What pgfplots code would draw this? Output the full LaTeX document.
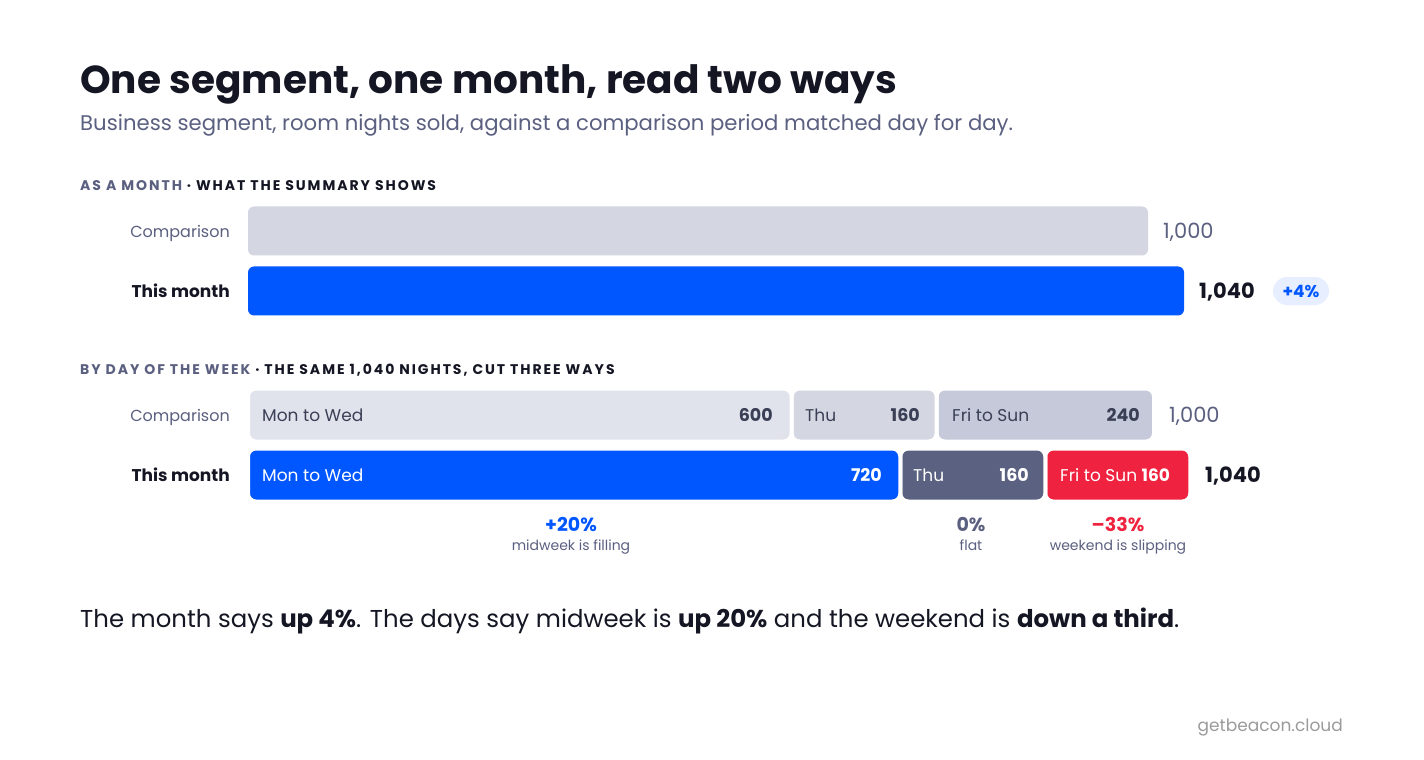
\documentclass[border=0pt]{standalone}
\usepackage{fontspec}
\setmainfont{Poppins}
\newfontfamily\spaced{Poppins}[LetterSpace=14]
\usepackage{pgfplots}
\pgfplotsset{compat=1.18}
\definecolor{ink}{HTML}{151623}
\definecolor{slate}{HTML}{5B6080}
\definecolor{barblue}{HTML}{0057FF}
\definecolor{cmptop}{HTML}{D4D6E2}
\definecolor{cmpa}{HTML}{E1E3EC}
\definecolor{cmpb}{HTML}{D4D6E2}
\definecolor{cmpc}{HTML}{C5C9DA}
\definecolor{thu}{HTML}{5B6180}
\definecolor{barred}{HTML}{EF2340}
\definecolor{pill}{HTML}{E6EEFF}
\definecolor{foot}{HTML}{9B9B9B}
\definecolor{lbl}{HTML}{3A3F55}
\newcommand{\fs}[1]{\fontsize{#1}{#1}\selectfont}
\begin{document}
\begin{tikzpicture}[x=1pt,y=1pt]
\fill[white] (0,0) rectangle (1424,-760);
% ---- top: as a month
\begin{axis}[at={(248pt,-760pt)}, anchor=south west, scale only axis,
  width=900pt, height=760pt, xmin=0, xmax=1000, ymin=-760, ymax=0,
  hide axis, clip=false, enlargelimits=false, xbar, bar width=49pt]
\addplot[fill=cmptop, draw=none, rounded corners=6pt, bar shift=0pt] coordinates {(1000,-231)};
\addplot[fill=barblue, draw=none, rounded corners=6pt, bar shift=0pt] coordinates {(1040,-291)};
\end{axis}
% ---- bottom: comparison by day
\begin{axis}[at={(248pt,-760pt)}, anchor=south west, scale only axis,
  width=906pt, height=760pt, xmin=0, xmax=1000, ymin=-760, ymax=0,
  hide axis, clip=false, enlargelimits=false, xbar stacked, bar width=53pt]
\addplot[fill=cmpa, draw=white, line width=4pt, rounded corners=8pt] coordinates {(600,-415)};
\addplot[fill=cmpb, draw=white, line width=4pt, rounded corners=8pt] coordinates {(160,-415)};
\addplot[fill=cmpc, draw=white, line width=4pt, rounded corners=8pt] coordinates {(240,-415)};
\end{axis}
% ---- bottom: this month by day
\begin{axis}[at={(248pt,-760pt)}, anchor=south west, scale only axis,
  width=906pt, height=760pt, xmin=0, xmax=1000, ymin=-760, ymax=0,
  hide axis, clip=false, enlargelimits=false, xbar stacked, bar width=53pt]
\addplot[fill=barblue, draw=white, line width=4pt, rounded corners=8pt] coordinates {(720,-475)};
\addplot[fill=thu, draw=white, line width=4pt, rounded corners=8pt] coordinates {(160,-475)};
\addplot[fill=barred, draw=white, line width=4pt, rounded corners=8pt] coordinates {(160,-475)};
\end{axis}
% ---- titles
\node[anchor=base west, inner sep=0, text=ink, font=\fs{39}\bfseries] at (80,-93) {One segment, one month, read two ways};
\node[anchor=base west, inner sep=0, text=slate, font=\fs{21.2}] at (80,-130) {Business segment, room nights sold, against a comparison period matched day for day.};
\node[anchor=base west, inner sep=0, font=\spaced\fs{14}\bfseries] at (80,-190) {\textcolor{slate}{AS A MONTH} \textcolor{ink}{· WHAT THE SUMMARY SHOWS}};
\node[anchor=base west, inner sep=0, font=\spaced\fs{14}\bfseries] at (80,-374) {\textcolor{slate}{BY DAY OF THE WEEK} \textcolor{ink}{· THE SAME 1,040 NIGHTS, CUT THREE WAYS}};
% ---- row labels
\node[anchor=base east, inner sep=0, text=slate, font=\fs{16}] at (230,-237) {Comparison};
\node[anchor=base east, inner sep=0, text=ink, font=\fs{17}\bfseries] at (230,-297) {This month};
\node[anchor=base east, inner sep=0, text=slate, font=\fs{16}] at (230,-421) {Comparison};
\node[anchor=base east, inner sep=0, text=ink, font=\fs{17}\bfseries] at (230,-481) {This month};
% ---- top values
\node[anchor=base west, inner sep=0, text=slate, font=\fs{21}] at (1163,-238) {1,000};
\node[anchor=base west, inner sep=0, text=ink, font=\fs{21}\bfseries] at (1199,-298) {1,040};
\fill[pill, rounded corners=14pt] (1273,-277) rectangle (1329,-305);
\node[anchor=base, inner sep=0, text=barblue, font=\fs{17}\bfseries] at (1301,-297) {+4\%};
% ---- bottom labels, comparison
\node[anchor=base west, inner sep=0, text=lbl, font=\fs{17}] at (262,-421) {Mon to Wed};
\node[anchor=base east, inner sep=0, text=lbl, font=\fs{17.5}\bfseries] at (773,-421) {600};
\node[anchor=base west, inner sep=0, text=lbl, font=\fs{17}] at (805,-421) {Thu};
\node[anchor=base east, inner sep=0, text=lbl, font=\fs{17.5}\bfseries] at (920,-421) {160};
\node[anchor=base west, inner sep=0, text=lbl, font=\fs{17}] at (952,-421) {Fri to Sun};
\node[anchor=base east, inner sep=0, text=lbl, font=\fs{17.5}\bfseries] at (1140,-421) {240};
\node[anchor=base west, inner sep=0, text=slate, font=\fs{21}] at (1169,-422) {1,000};
% ---- bottom labels, this month
\node[anchor=base west, inner sep=0, text=white, font=\fs{17}] at (262,-481) {Mon to Wed};
\node[anchor=base east, inner sep=0, text=white, font=\fs{17.5}\bfseries] at (882,-481) {720};
\node[anchor=base west, inner sep=0, text=white, font=\fs{17}] at (913,-481) {Thu};
\node[anchor=base east, inner sep=0, text=white, font=\fs{17.5}\bfseries] at (1029,-481) {160};
\node[anchor=base west, inner sep=0, text=white, font=\fs{17}] at (1060,-481) {Fri to Sun \textbf{160}};
\node[anchor=base west, inner sep=0, text=ink, font=\fs{21}\bfseries] at (1205,-482) {1,040};
% ---- annotations
\node[anchor=base, inner sep=0, text=barblue, font=\fs{19}\bfseries] at (571,-531) {+20\%};
\node[anchor=base, inner sep=0, text=slate, font=\fs{14}] at (571,-550) {midweek is filling};
\node[anchor=base, inner sep=0, text=slate, font=\fs{19}\bfseries] at (971,-531) {0\%};
\node[anchor=base, inner sep=0, text=slate, font=\fs{14}] at (971,-550) {flat};
\node[anchor=base, inner sep=0, text=barred, font=\fs{19}\bfseries] at (1118,-531) {–33\%};
\node[anchor=base, inner sep=0, text=slate, font=\fs{14}] at (1118,-550) {weekend is slipping};
% ---- sentence and footer
\node[anchor=base west, inner sep=0, text=ink, font=\fs{24.4}] at (80,-627) {The month says \textbf{up 4\%}. The days say midweek is \textbf{up 20\%} and the weekend is \textbf{down a third}.};
\node[anchor=base east, inner sep=0, text=foot, font=\fs{17}] at (1343,-731) {getbeacon.cloud};
\end{tikzpicture}
\end{document}
